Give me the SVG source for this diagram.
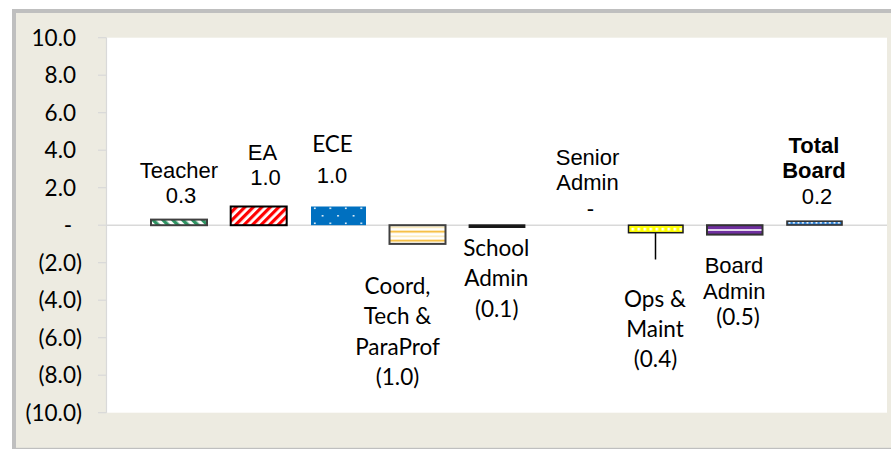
<svg xmlns="http://www.w3.org/2000/svg" width="891" height="449" viewBox="0 0 891 449">
<style>
.ax{font-family:Lato,"Liberation Sans",sans-serif;font-size:22.5px;fill:#000}
.ar{font-family:"Liberation Sans",Arial,sans-serif;font-size:22px;fill:#000;text-anchor:middle}
.ca{font-family:Lato,"Liberation Sans",sans-serif;font-size:22.5px;fill:#000;text-anchor:middle}
.bd{font-weight:bold}
.tick{stroke:#D9D9D9;stroke-width:1.2}
</style>
<defs>
<pattern id="pGreen" width="7" height="7" patternUnits="userSpaceOnUse" patternTransform="rotate(-45)">
<rect width="7" height="7" fill="#fff"/><rect width="3.5" height="7" fill="#2E9563"/>
</pattern>
<pattern id="pRed" width="6" height="6" patternUnits="userSpaceOnUse" patternTransform="rotate(45)">
<rect width="6" height="6" fill="#fff"/><rect width="3.2" height="6" fill="#FF0000"/>
</pattern>
<pattern id="pBlue" x="311" y="206" width="15.5" height="15" patternUnits="userSpaceOnUse">
<rect width="15.5" height="15" fill="#0070C0"/>
<rect x="3" y="1.5" width="1.6" height="1.6" fill="#fff"/>
<rect x="10.75" y="9" width="1.6" height="1.6" fill="#fff"/>
</pattern>
<pattern id="pOrange" x="0" y="225.2" width="10" height="9" patternUnits="userSpaceOnUse">
<rect width="10" height="9" fill="#fff"/>
<rect y="1.5" width="10" height="1.2" fill="#FBE3A0"/>
<rect y="5.6" width="10" height="1.8" fill="#F5B82E"/>
</pattern>
<pattern id="pYellow" x="628.5" y="225.2" width="6" height="7.5" patternUnits="userSpaceOnUse">
<rect width="6" height="7.5" fill="#FFFF00"/>
<rect x="3" y="2.6" width="2.6" height="2.6" fill="#fff"/>
</pattern>
<pattern id="pDots" x="787" y="221" width="4.5" height="4" patternUnits="userSpaceOnUse">
<rect width="4.5" height="4" fill="#2E7FD0"/>
<rect x="1.5" y="0.8" width="1.8" height="1.8" fill="#fff"/>
</pattern>
</defs>

<g id="frame">
<rect x="12" y="9" width="879" height="440" fill="#BFBFBF"/>
<rect x="16" y="13" width="875" height="434.8" fill="#EDEBE1"/>
<rect x="106.5" y="37.7" width="780.5" height="375" fill="#fff"/>
</g>

<g id="axis">
<line x1="106.5" y1="37.7" x2="106.5" y2="412.7" class="tick"/>
<g class="tick">
<line x1="98" y1="37.7" x2="106.5" y2="37.7"/>
<line x1="98" y1="75.2" x2="106.5" y2="75.2"/>
<line x1="98" y1="112.7" x2="106.5" y2="112.7"/>
<line x1="98" y1="150.2" x2="106.5" y2="150.2"/>
<line x1="98" y1="187.7" x2="106.5" y2="187.7"/>
<line x1="98" y1="225.2" x2="106.5" y2="225.2"/>
<line x1="98" y1="262.7" x2="106.5" y2="262.7"/>
<line x1="98" y1="300.2" x2="106.5" y2="300.2"/>
<line x1="98" y1="337.7" x2="106.5" y2="337.7"/>
<line x1="98" y1="375.2" x2="106.5" y2="375.2"/>
<line x1="98" y1="412.7" x2="106.5" y2="412.7"/>
</g>
<line x1="106.5" y1="225.2" x2="887" y2="225.2" stroke="#D9D9D9" stroke-width="1.5"/>
<g class="ax" text-anchor="end">
<text x="76" y="45.7">10.0</text>
<text x="76" y="83.2">8.0</text>
<text x="76" y="120.7">6.0</text>
<text x="76" y="158.2">4.0</text>
<text x="76" y="195.7">2.0</text>
<text x="82" y="270.7">(2.0)</text>
<text x="82" y="308.2">(4.0)</text>
<text x="82" y="345.7">(6.0)</text>
<text x="82" y="383.2">(8.0)</text>
<text x="82" y="420.7">(10.0)</text>
</g>
<text class="ax" x="68" y="233.2" text-anchor="middle">-</text>
</g>

<g id="connectors">
<line x1="655.5" y1="232.7" x2="655.5" y2="259.5" stroke="#000" stroke-width="1.5"/>
</g>

<g id="teacher">
<rect x="151" y="219.6" width="56" height="5.6" fill="url(#pGreen)" stroke="#404040" stroke-width="2"/>
<text class="ar" x="179" y="178">Teacher</text>
<text class="ar" x="181" y="203">0.3</text>
</g>

<g id="ea">
<rect x="230.7" y="206.5" width="56" height="18.7" fill="url(#pRed)" stroke="#000" stroke-width="2"/>
<text class="ar" x="262.5" y="160">EA</text>
<text class="ar" x="265.5" y="185">1.0</text>
</g>

<g id="ece">
<rect x="311" y="206.5" width="55" height="18.7" fill="url(#pBlue)"/>
<text class="ca" x="332.5" y="151.7">ECE</text>
<text class="ar" x="332" y="182.7">1.0</text>
</g>

<g id="coord">
<rect x="389.5" y="225.2" width="56" height="18.7" fill="url(#pOrange)" stroke="#404040" stroke-width="2"/>
<text class="ca" x="397.5" y="294">Coord,</text>
<text class="ca" x="397.5" y="324.3">Tech &amp;</text>
<text class="ca" x="397.5" y="354.6">ParaProf</text>
<text class="ca" x="397.5" y="384.9">(1.0)</text>
</g>

<g id="school-admin">
<rect x="469.5" y="225.2" width="55" height="1.9" fill="#000" stroke="#1a1a1a" stroke-width="1.8"/>
<text class="ca" x="496.3" y="256">School</text>
<text class="ca" x="496.3" y="286.3">Admin</text>
<text class="ca" x="496.7" y="316.6">(0.1)</text>
</g>

<g id="senior-admin">
<text class="ar" x="587.5" y="165">Senior</text>
<text class="ar" x="587.5" y="190">Admin</text>
<text class="ar" x="590.5" y="216">-</text>
</g>

<g id="ops-maint">
<rect x="628.5" y="225.2" width="54.5" height="7.5" fill="url(#pYellow)" stroke="#1a1a1a" stroke-width="1.5"/>
<text class="ca" x="655" y="306.7">Ops &amp;</text>
<text class="ca" x="655" y="337">Maint</text>
<text class="ca" x="655.5" y="367.3">(0.4)</text>
</g>

<g id="board-admin">
<rect x="707" y="225.2" width="55.5" height="9.4" fill="#7030A0" stroke="#333" stroke-width="2"/>
<rect x="708" y="229.2" width="53.5" height="1.6" fill="#fff"/>
<text class="ar" x="734" y="273.3">Board</text>
<text class="ar" x="734.3" y="299">Admin</text>
<text class="ca" x="738" y="325">(0.5)</text>
</g>

<g id="total-board">
<rect x="787" y="221.2" width="55" height="3.8" fill="url(#pDots)" stroke="#333" stroke-width="1.6"/>
<text class="ar bd" x="814" y="153.3">Total</text>
<text class="ar bd" x="814" y="178.3">Board</text>
<text class="ar" x="817" y="204">0.2</text>
</g>
</svg>
